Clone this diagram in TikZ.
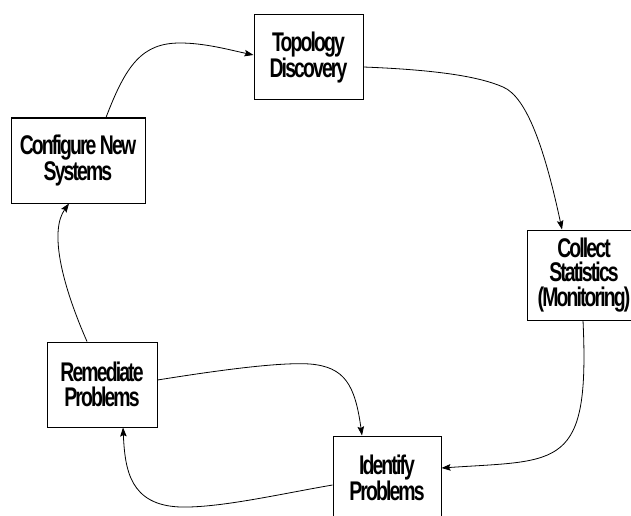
\documentclass[tikz,border=0pt]{standalone}
\usepackage{fontspec}
\newfontfamily\boxfont[FakeStretch=0.72,LetterSpace=-7]{Liberation Sans}
\usetikzlibrary{arrows.meta}
\begin{document}
\begin{tikzpicture}[x=1pt,y=-1pt,
  stage/.style={draw=black,line width=1pt,rectangle,inner sep=0pt,align=center,
    font=\boxfont\bfseries\fontsize{27}{24.5}\selectfont,
    execute at begin node={\rule{0pt}{32pt}}},
  flow/.style={draw=black,line width=0.8pt,
    -{Stealth[length=9pt,width=6.5pt,inset=1.5pt]}}]
\useasboundingbox (0,0) rectangle (631,516);

% process stages
\node[stage,minimum width=109pt,minimum height=85pt] (topo)    at (308.5,57.5) {Topology\\Discovery};
\node[stage,minimum width=134pt,minimum height=85pt] (config)  at (78,160.5)   {Configure New\\Systems};
\node[stage,minimum width=114pt,minimum height=90pt] (collect) at (584,275)    {Collect\\Statistics\\(Monitoring)};
\node[stage,minimum width=110pt,minimum height=85pt] (remed)   at (102,384.5)  {Remediate\\Problems};
\node[stage,minimum width=108pt,minimum height=84pt] (ident)   at (387,478)    {Identify\\Problems};

% cycle connectors
\draw[flow] ([xshift=28pt]config.north)
  .. controls (126,65) and (142,43) .. (180,43)
  .. controls (205,43) and (230,50) .. ([yshift=2.5pt]topo.west);
\draw[flow] ([yshift=-9.5pt]topo.east)
  .. controls (440,70) and (480,77) .. (503,87)
  .. controls (527,97) and (545,150) .. ([xshift=-22pt]collect.north);
\draw[flow] ([xshift=-1pt]collect.south)
  .. controls (590,470) and (560,460) .. ([yshift=10pt]ident.east);
\draw[flow] ([yshift=4.5pt]remed.east)
  .. controls (220,370) and (280,362) .. (310,364)
  .. controls (345,367) and (355,385) .. ([xshift=-25pt]ident.north);
\draw[flow] ([yshift=-7pt]ident.west)
  .. controls (280,494) and (220,508) .. (180,507)
  .. controls (130,505) and (125,470) .. ([xshift=21pt]remed.south);
\draw[flow] ([xshift=-15pt]remed.north)
  .. controls (60,280) and (50,230) .. ([xshift=-9pt]config.south);
\end{tikzpicture}
\end{document}
